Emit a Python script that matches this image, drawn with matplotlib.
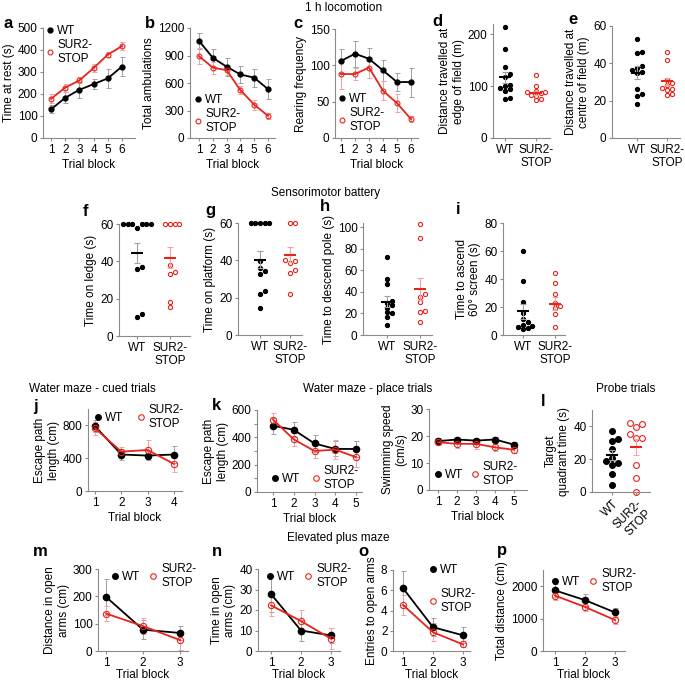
import numpy as np
import matplotlib
matplotlib.use('Agg')
import matplotlib.pyplot as plt
from matplotlib.lines import Line2D

FS = 8.5
plt.rcParams['font.family'] = ['Liberation Sans', 'DejaVu Sans']
plt.rcParams['font.size'] = FS

# ---- line panels (mean, sem per trial block) ----
a_wt = [130, 183, 219, 245, 271, 325]
a_wt_err = [18, 25, 35, 23, 42, 45]
a_sur = [178, 229, 262, 318, 379, 418]
a_sur_err = [20, 18, 14, 18, 11, 19]

b_wt = [1060, 875, 778, 693, 658, 533]
b_wt_err = [85, 100, 100, 95, 100, 110]
b_sur = [893, 768, 740, 522, 364, 242]
b_sur_err = [90, 65, 55, 45, 55, 35]

c_wt = [106, 116, 109, 93, 77, 77]
c_wt_err = [16, 18, 15, 15, 13, 20]
c_sur = [88, 88, 97, 65, 48, 26]
c_sur_err = [20, 8, 14, 13, 12, 4]

j_wt = [790, 445, 432, 445]
j_wt_err = [70, 70, 60, 100]
j_sur = [765, 480, 500, 330]
j_sur_err = [80, 60, 120, 100]

k_wt = [485, 455, 355, 315, 315]
k_wt_err = [60, 55, 65, 55, 60]
k_sur = [530, 385, 300, 310, 255]
k_sur_err = [50, 50, 50, 70, 70]

swim_wt = [18.1, 18.7, 18.3, 18.7, 16.8]
swim_wt_err = [1.0, 0.8, 1.0, 0.8, 0.8]
swim_sur = [17.7, 17.1, 17.1, 15.8, 14.9]
swim_sur_err = [1.2, 1.5, 1.8, 1.5, 1.2]

m_wt = [198, 78, 66]
m_wt_err = [67, 35, 25]
m_sur = [137, 91, 40]
m_sur_err = [28, 30, 35]

n_wt = [27.8, 10, 7.6]
n_wt_err = [9, 5, 3.5]
n_sur = [22.3, 14.6, 6]
n_sur_err = [5, 5.5, 5]

o_wt = [6.2, 2.35, 1.55]
o_wt_err = [1.7, 0.9, 0.8]
o_sur = [4.55, 1.85, 0.65]
o_sur_err = [1.0, 0.9, 0.3]

p_wt = [1870, 1570, 1190]
p_wt_err = [200, 180, 130]
p_sur = [1710, 1360, 955]
p_sur_err = [140, 140, 110]

# ---- individual animals (dot panels) ----
d_wt = [215, 172, 137, 124, 118, 102, 100, 96, 94, 91, 78, 75]
d_sur = [122, 100, 91, 89, 88, 86, 83, 82, 76, 74]
e_wt = [52.8, 46, 45.5, 38.5, 37.3, 36.4, 35.5, 35, 26.5, 23.5, 22.4, 18.4]
e_sur = [46, 41.7, 31, 29.2, 28.3, 27, 26.5, 25.6, 23.8, 22.9]
f_wt = [60, 60, 60, 60, 60, 60, 58, 37, 36, 11.7, 10.2]
f_sur = [60, 60, 60, 60, 38, 34.5, 33, 18, 15.5]
g_wt = [60, 60, 60, 60, 60, 39.5, 35.8, 34.4, 32.8, 23.8, 21.9, 14.7]
g_sur = [60, 60, 40, 39.5, 38.5, 35, 33, 22]
h_wt = [72, 52, 47, 31.5, 30, 28, 25, 21, 20, 17, 9]
h_sur = [103, 90, 38, 35, 31, 22, 21, 12]
i_wt = [60, 38.5, 23.5, 16, 11.5, 9.5, 7.5, 6.5, 5.5, 5, 4]
i_sur = [44, 37, 29, 23, 21, 19, 15, 6]
l_wt = [37, 32.5, 31, 26, 21, 18.6, 17.6, 16.2, 11, 4.1]
l_sur = [42, 41.5, 39.6, 35.2, 33.2, 32.7, 16.6, 8.7, 0.2]

# group mean / sem as drawn
d_mean, d_sem = [117, 87], [11, 4.5]
e_mean, e_sem = [35, 30.3], [3.5, 2]
f_mean, f_sem = [44.5, 42], [5.5, 5.5]
g_mean, g_sem = [40.3, 43], [4.5, 4]
h_mean, h_sem = [31, 42.5], [5, 10]
i_mean, i_sem = [17, 22.5], [5.5, 4.5]
l_mean, l_sem = [22.4, 27.6], [3, 5]

groups = ['WT', 'SUR2-\nSTOP']

W, H = 685, 681
RED = '#e8231c'
PINK = '#f2a3a3'
GREY = '#a0a0a0'
SPINE = '#8a8a8a'

fig = plt.figure(figsize=(W / 100, H / 100), dpi=100)


def px_axes(left, top, right, bottom):
    ax = fig.add_axes([left / W, 1 - bottom / H, (right - left) / W, (bottom - top) / H])
    for s in ['top', 'right']:
        ax.spines[s].set_visible(False)
    for s in ['left', 'bottom']:
        ax.spines[s].set_color(SPINE)
        ax.spines[s].set_linewidth(0.8)
    ax.tick_params(length=2.5, width=0.8, color=SPINE, pad=1.5, labelsize=FS)
    ax.patch.set_alpha(0)
    return ax


def legend(ax, x, y, ncol, ms, spacing=0.15, colsp=0.8):
    h = [Line2D([], [], ls='none', marker='o', color='k', ms=ms),
         Line2D([], [], ls='none', marker='o', color=RED, mfc='none', ms=ms, mew=0.8)]
    ax.legend(h, ['WT', 'SUR2-\nSTOP'], ncol=ncol, frameon=False,
              loc='upper left', bbox_to_anchor=(x / W, 1 - y / H),
              bbox_transform=fig.transFigure, borderpad=0, borderaxespad=0,
              handlelength=0.6, handletextpad=0.35, columnspacing=colsp,
              labelspacing=spacing, fontsize=FS)


def line_panel(geom, wt, wt_err, sur, sur_err, ylim, yticks, ylabel, ms=3.5, xpad=2.5):
    left, t1, tn, right, top, bottom = geom
    n = len(wt)
    ax = px_axes(left, top, right, bottom)
    step = (tn - t1) / (n - 1)
    ax.set_xlim(1 - (t1 - left) / step, n + (right - tn) / step)
    ax.set_ylim(*ylim)
    x = np.arange(1, n + 1)
    ax.errorbar(x, wt, yerr=wt_err, fmt='none', ecolor=GREY, elinewidth=0.7,
                capsize=1.8, capthick=0.7)
    ax.errorbar(x, sur, yerr=sur_err, fmt='none', ecolor=PINK, elinewidth=0.7,
                capsize=1.8, capthick=0.7)
    ax.plot(x, wt, '-o', color='k', ms=ms, lw=1.3)
    ax.plot(x, sur, '-o', color=RED, mfc='none', ms=ms, lw=1.3, mew=0.8)
    ax.set_xticks(x)
    ax.set_yticks(yticks)
    ax.set_xlabel('Trial block', labelpad=xpad)
    ax.set_ylabel(ylabel, labelpad=2)
    return ax


def swarm(vals, ypx, xpx, d):
    # simple beeswarm offsets in data units
    order = np.argsort(vals)
    placed = []
    off = np.zeros(len(vals))
    for i in order:
        y = vals[i] * ypx
        for k in range(40):
            c = ((k + 1) // 2) * d * (1 if k % 2 else -1) if k else 0.0
            if all((c - pc) ** 2 + (y - py) ** 2 >= (0.8 * d) ** 2 for pc, py in placed):
                break
        placed.append((c, y))
        off[i] = c / xpx
    return off


def dot_panel(geom, wt, sur, mean, sem, ylim, yticks, ylabel, ms=3.0, rot=False):
    left, xw, xs, right, top, bottom = geom
    ax = px_axes(left, top, right, bottom)
    step = xs - xw
    ax.set_xlim(1 - (xw - left) / step, 2 + (right - xs) / step)
    ax.set_ylim(*ylim)
    ypx = (bottom - top) / (ylim[1] - ylim[0])
    d = ms * 1.39 + 0.5
    for i, (vals, c, mfc) in enumerate([(wt, 'k', 'k'), (sur, RED, 'none')]):
        vals = np.array(vals, float)
        xo = swarm(vals, ypx, step, d)
        ax.plot(1 + i + xo, vals, 'o', color=c, mfc=mfc, ms=ms, mew=0.8, ls='none',
                clip_on=False)
        ax.errorbar(1 + i, mean[i], yerr=sem[i], fmt='none', ecolor=[GREY, PINK][i],
                    elinewidth=0.8, capsize=2, capthick=0.8, zorder=4)
        ax.plot(1 + i, mean[i], marker='_', ms=9, mew=1.5, color=c, zorder=5)
    ax.set_xticks([1, 2])
    if rot:
        ax.set_xticklabels(groups, rotation=45, ha='right', rotation_mode='anchor')
    else:
        ax.set_xticklabels(groups)
    ax.set_yticks(yticks)
    ax.set_ylabel(ylabel, labelpad=2)
    return ax


# row 1: 1 h locomotion
ax = line_panel((43, 51, 122, 135, 28, 138), a_wt, a_wt_err, a_sur, a_sur_err,
                (0, 500), range(0, 501, 100), 'Time at rest (s)')
legend(ax, 46, 25, 1, 3.5)
ax = line_panel((190, 199, 268, 275, 28, 138), b_wt, b_wt_err, b_sur, b_sur_err,
                (0, 1200), range(0, 1201, 300), 'Total ambulations')
legend(ax, 194, 94, 1, 3.5)
ax = line_panel((335, 341, 411, 418, 29, 138), c_wt, c_wt_err, c_sur, c_sur_err,
                (0, 150), range(0, 151, 50), 'Rearing frequency')
legend(ax, 338, 93, 1, 3.5)
dot_panel((493, 505, 536, 550, 24, 138), d_wt, d_sur, d_mean, d_sem, (0, 220),
          [0, 100, 200], 'Distance travelled at\nedge of field (m)')
dot_panel((612, 637, 667, 680, 26, 138), e_wt, e_sur, e_mean, e_sem, (0, 60),
          [0, 20, 40, 60], 'Distance travelled at\ncentre of field (m)')

# row 2: sensorimotor battery
dot_panel((119, 137, 170, 190, 224, 336), f_wt, f_sur, f_mean, f_sem, (0, 60),
          [0, 20, 40, 60], 'Time on ledge (s)')
dot_panel((238, 260, 290, 302, 223, 335), g_wt, g_sur, g_mean, g_sem, (0, 60),
          [0, 20, 40, 60], 'Time on platform (s)')
dot_panel((363, 387, 420, 432, 223, 335), h_wt, h_sur, h_mean, h_sem, (0, 104),
          range(0, 101, 20), 'Time to descend pole (s)')
dot_panel((503, 523, 555, 565, 223, 335), i_wt, i_sur, i_mean, i_sem, (0, 80),
          range(0, 81, 20), 'Time to ascend\n60° screen (s)')

# row 3: water maze
ax = line_panel((88, 95, 174, 182, 409, 491), j_wt, j_wt_err, j_sur, j_sur_err,
                (0, 1000), [0, 400, 800], 'Escape path\nlength (cm)', ms=4.5)
legend(ax, 94, 404, 2, 4, colsp=1.2)
ax = line_panel((257, 273, 356, 362, 410, 492), k_wt, k_wt_err, k_sur, k_sur_err,
                (0, 600), range(0, 601, 200), 'Escape path\nlength (cm)', ms=4.5)
ax.set_yticks(range(100, 600, 200), minor=True)
ax.tick_params(which='minor', length=2, width=0.8, color=SPINE)
legend(ax, 271, 465, 2, 4, colsp=1.0)
ax = line_panel((429, 438, 514, 527, 409, 490), swim_wt, swim_wt_err, swim_sur,
                swim_sur_err, (0, 30), range(0, 31, 10), 'Swimming speed\n(cm/s)', ms=4.5)
legend(ax, 434, 461, 2, 4, colsp=0.7)
dot_panel((592, 612, 636, 650, 410, 492), l_wt, l_sur, l_mean, l_sem, (0, 50),
          [0, 20, 40], 'Target\nquadrant time (s)', ms=4.2, rot=True)

# row 4: elevated plus maze
ax = line_panel((98, 106, 180, 188, 569, 651), m_wt, m_wt_err, m_sur, m_sur_err,
                (0, 300), range(0, 301, 100), 'Distance in open\narms (cm)', ms=4.5,
                xpad=0)
legend(ax, 111, 563, 2, 4)
ax = line_panel((258, 271, 331, 340, 569, 651), n_wt, n_wt_err, n_sur, n_sur_err,
                (0, 40), range(0, 41, 10), 'Time in open\narms (cm)', ms=4.5, xpad=0)
legend(ax, 266, 563, 2, 4)
ax = line_panel((393, 403, 463, 470, 570, 651), o_wt, o_wt_err, o_sur, o_sur_err,
                (0, 8), range(0, 9, 2), 'Entries to open arms', ms=4.5, xpad=0)
legend(ax, 429, 564, 1, 4, spacing=1.0)
ax = line_panel((543, 555, 615, 625, 570, 651), p_wt, p_wt_err, p_sur, p_sur_err,
                (0, 2500), [0, 1000, 2000], 'Total distance (cm)', ms=4.5, xpad=0)
legend(ax, 551, 568, 2, 4)

# section titles
for x, y, s in [(344, 8, '1 h locomotion'), (326, 193, 'Sensorimotor battery'),
                (92, 389, 'Water maze - cued trials'),
                (368, 389, 'Water maze - place trials'),
                (626, 389, 'Probe trials'), (338, 538, 'Elevated plus maze')]:
    fig.text(x / W, 1 - y / H, s, ha='center', va='center', fontsize=FS)

# panel letters
for x, y, s in [(3, 23, 'a'), (145, 23, 'b'), (293, 23, 'c'), (432, 21, 'd'),
                (568, 20, 'e'), (83, 211, 'f'), (205, 211, 'g'), (320, 207, 'h'),
                (456, 210, 'i'), (33, 406, 'j'), (212, 406, 'k'), (541, 402, 'l'),
                (33, 551, 'm'), (212, 551, 'n'), (358, 551, 'o'), (497, 551, 'p')]:
    fig.text(x / W, 1 - y / H, s, ha='left', va='center', fontsize=12,
             fontweight='bold')

plt.savefig('out.png', dpi=100)
